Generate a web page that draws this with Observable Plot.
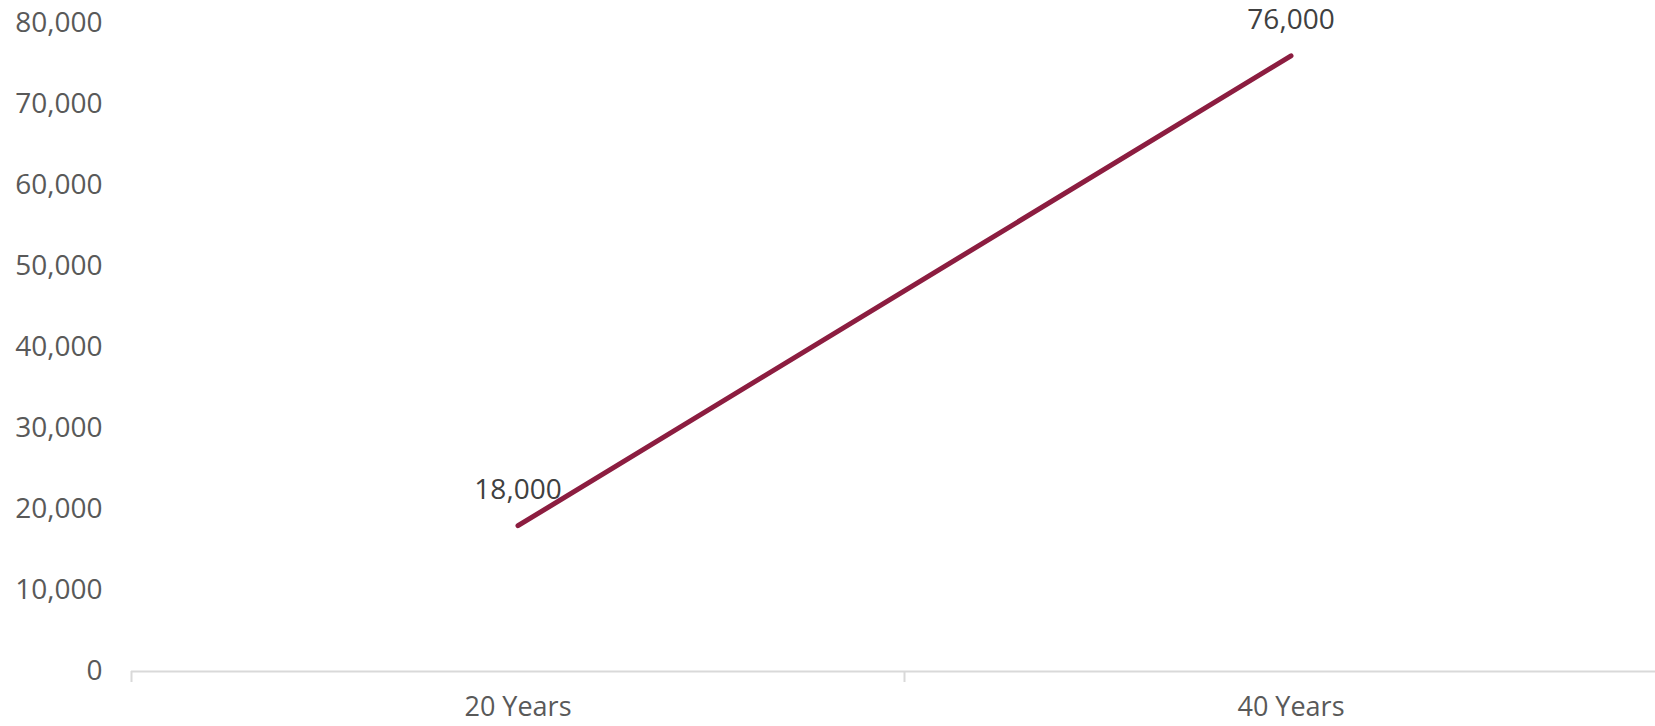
<!DOCTYPE html>
<html>
<head>
<meta charset="utf-8">
<script src="https://cdn.jsdelivr.net/npm/d3@7"></script>
<script src="https://cdn.jsdelivr.net/npm/@observablehq/plot@0.6"></script>
<style>
  html, body { margin: 0; padding: 0; background: #fff; overflow: hidden; }
</style>
</head>
<body>
<div id="chart"></div>
<script>
const categories = ["20 Years", "40 Years"];
const values = [18000, 76000];
const yTicks = [0, 10000, 20000, 30000, 40000, 50000, 60000, 70000, 80000];

const data = categories.map((c, i) => ({category: c, pos: i + 0.5, value: values[i]}));
const boundaries = d3.range(categories.length + 1);
const centers = categories.map((c, i) => i + 0.5);

const font = "'Open Sans', sans-serif";

const chart = Plot.plot({
  width: 1655,
  height: 726,
  marginTop: 23,
  marginBottom: 55,
  marginLeft: 131,
  marginRight: 0,
  style: {fontFamily: font, background: "#fff", overflow: "hidden"},
  x: {domain: [0, categories.length], range: [131, 1677], label: null},
  y: {domain: [0, 80000], label: null},
  marks: [
    Plot.ruleY([0], {stroke: "#d9d9d9", strokeWidth: 2}),
    Plot.axisX({ticks: boundaries, tickSize: 11, tickFormat: () => "", stroke: "#d9d9d9", strokeWidth: 2, strokeOpacity: 1, label: null}),
    Plot.axisX({ticks: centers, tickSize: 0, tickPadding: 25, tickFormat: d => categories[Math.floor(d)], fontSize: 27, fill: "#595959", label: null}),
    Plot.axisY({ticks: yTicks, tickSize: 0, tickPadding: 29, tickFormat: d3.format(","), fontSize: 28, fill: "#595959", label: null}),
    Plot.line(data, {x: "pos", y: "value", stroke: "#8C1D40", strokeWidth: 5, strokeLinecap: "round"}),
    Plot.text(data, {x: "pos", y: "value", text: d => d3.format(",")(d.value), dy: -36, fontSize: 28, fill: "#404040"})
  ]
});
document.getElementById("chart").appendChild(chart);
</script>
</body>
</html>
